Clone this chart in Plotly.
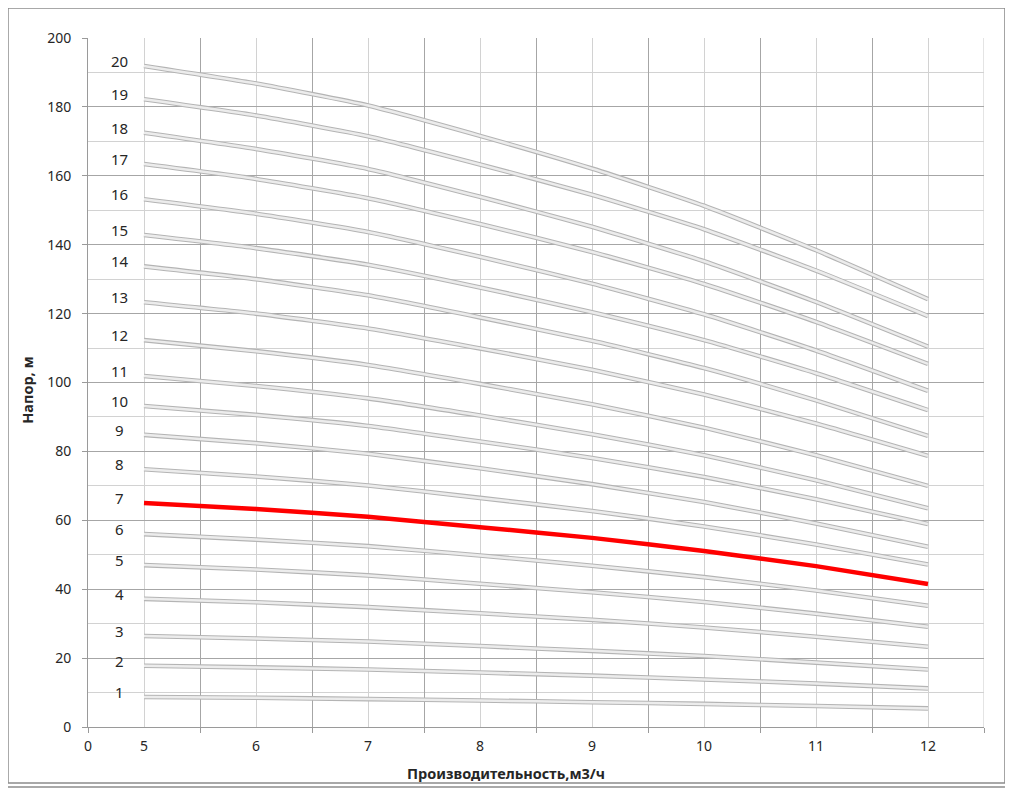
import plotly.graph_objects as go

flow = [5, 6, 7, 8, 9, 10, 11, 12]
stages = list(range(1, 21))
heads = {
    1: [8.7, 8.5, 8.1, 7.7, 7.2, 6.7, 6.1, 5.4],
    2: [17.8, 17.3, 16.7, 15.8, 14.9, 13.8, 12.6, 11.2],
    3: [26.4, 25.7, 24.8, 23.5, 22.1, 20.6, 18.7, 16.7],
    4: [37.2, 36.2, 34.8, 33.0, 31.1, 28.9, 26.2, 23.3],
    5: [47.0, 45.7, 44.0, 41.6, 39.1, 36.3, 32.9, 29.1],
    6: [56.0, 54.4, 52.5, 49.8, 46.8, 43.5, 39.6, 35.2],
    7: [65.0, 63.3, 61.0, 58.0, 54.9, 51.1, 46.7, 41.5],
    8: [74.8, 72.7, 70.1, 66.5, 62.7, 58.2, 53.0, 47.2],
    9: [84.8, 82.4, 79.3, 75.1, 70.5, 65.3, 59.1, 52.3],
    10: [93.2, 90.6, 87.4, 82.9, 78.1, 72.6, 66.1, 58.9],
    11: [101.9, 99.0, 95.4, 90.4, 85.0, 78.9, 71.6, 63.5],
    12: [112.3, 109.1, 105.1, 99.6, 93.7, 86.9, 78.9, 70.0],
    13: [123.3, 120.0, 115.7, 109.9, 103.7, 96.5, 88.1, 78.7],
    14: [133.7, 130.0, 125.3, 118.9, 112.1, 104.2, 94.8, 84.5],
    15: [142.8, 139.0, 134.2, 127.6, 120.4, 112.3, 102.7, 92.0],
    16: [153.2, 149.0, 143.7, 136.5, 128.7, 119.8, 109.3, 97.6],
    17: [163.4, 159.1, 153.5, 146.0, 137.9, 128.6, 117.6, 105.4],
    18: [172.5, 167.8, 162.0, 153.9, 145.2, 135.2, 123.4, 110.4],
    19: [182.2, 177.5, 171.5, 163.3, 154.5, 144.5, 132.5, 119.3],
    20: [191.9, 186.8, 180.4, 171.6, 162.1, 151.3, 138.4, 124.2],
}
highlight = 7
x_tick_values = [0, 5, 6, 7, 8, 9, 10, 11, 12]
x_tick_labels = ["0", "5", "6", "7", "8", "9", "10", "11", "12"]
y_ticks = list(range(0, 201, 20))


def pos(q):
    # category-style axis: "0" first, then half-step slots from 5 on
    return 0 if q == 0 else 2 * (q - 5) + 1


FONT = "Noto Sans"
TXT = "#262626"
xs = [pos(q) for q in flow]

fig = go.Figure()
for s in stages:
    if s == highlight:
        continue
    fig.add_trace(go.Scatter(x=xs, y=heads[s], mode="lines",
                             line=dict(color="#b4b4b4", width=4.6, shape="spline", smoothing=0.5),
                             hoverinfo="skip", showlegend=False))
    fig.add_trace(go.Scatter(x=xs, y=heads[s], mode="lines",
                             line=dict(color="#ececec", width=2.5, shape="spline", smoothing=0.5),
                             name=str(s), showlegend=False))
fig.add_trace(go.Scatter(x=xs, y=heads[highlight], mode="lines",
                         line=dict(color="#ff0000", width=4.5, shape="spline", smoothing=0.5),
                         name=str(highlight), showlegend=False))
# dummy trace for the label axis
fig.add_trace(go.Scatter(x=[0], y=[0], xaxis="x2", mode="markers", marker=dict(opacity=0),
                         hoverinfo="skip", showlegend=False))

for s in stages:
    fig.add_annotation(x=0.57, y=heads[s][0], text=str(s), showarrow=False, yshift=5,
                       font=dict(family=FONT, size=15, color=TXT), xanchor="center", yanchor="middle")

fig.add_annotation(xref="paper", yref="paper", x=-0.068, y=0.488, text="<b>Напор, м</b>", textangle=-90,
                   showarrow=False, font=dict(family=FONT, size=14.5, color=TXT), xanchor="center", yanchor="middle")
fig.add_annotation(xref="paper", yref="paper", x=0.466, y=-0.0667, text="<b>Производительность,м3/ч</b>",
                   showarrow=False, font=dict(family=FONT, size=14.5, color=TXT), xanchor="center", yanchor="middle")

# outer chart border and the box below it
fig.add_shape(type="rect", xref="paper", yref="paper", x0=-0.0893, x1=1.0234, y0=-0.0812, y1=1.0435,
              line=dict(color="#8c8c8c", width=1.5), layer="below")
fig.add_shape(type="line", xref="paper", yref="paper", x0=-0.0893, x1=1.0234, y0=-0.0870, y1=-0.0870,
              line=dict(color="#8c8c8c", width=1.5))
fig.add_shape(type="line", xref="x", yref="paper", x0=16, x1=16, y0=0, y1=1,
              line=dict(color="#c8c8c8", width=1), layer="below")

fig.update_layout(
    width=1005, height=786,
    margin=dict(l=80, r=29, t=30, b=67, autoexpand=False),
    paper_bgcolor="white", plot_bgcolor="white",
    font=dict(family=FONT, size=14, color=TXT),
    xaxis=dict(range=[0, 16], tickmode="array", tickvals=list(range(0, 17, 2)), showticklabels=False,
               ticks="outside", ticklen=5, tickcolor="#9a9a9a", showgrid=True, gridcolor="#a6a6a6", gridwidth=1,
               showline=True, linecolor="#9a9a9a", zeroline=False,
               minor=dict(tickmode="array", tickvals=list(range(1, 16, 2)), showgrid=True,
                          gridcolor="#d2d2d2", gridwidth=1, ticks="")),
    xaxis2=dict(range=[0, 16], overlaying="x", side="bottom", tickmode="array",
                tickvals=[pos(v) for v in x_tick_values], ticktext=x_tick_labels,
                showgrid=False, zeroline=False, ticks="", ticklabelstandoff=9,
                tickfont=dict(family=FONT, size=14, color=TXT)),
    yaxis=dict(range=[0, 200], tickmode="array", tickvals=y_ticks, ticks="outside", ticklen=5, tickcolor="#9a9a9a",
               showgrid=True, gridcolor="#a6a6a6", gridwidth=1, showline=True, linecolor="#9a9a9a", zeroline=False,
               ticklabelstandoff=8, tickfont=dict(family=FONT, size=14, color=TXT),
               minor=dict(dtick=10, showgrid=True, gridcolor="#d2d2d2", gridwidth=1, ticks="")),
)

fig.write_html("out.html")
